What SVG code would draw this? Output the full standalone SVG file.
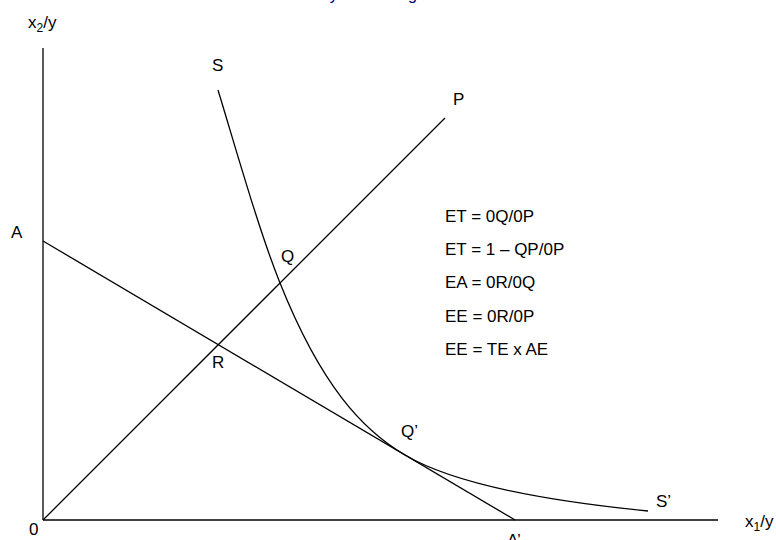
<svg xmlns="http://www.w3.org/2000/svg" width="776" height="540" viewBox="0 0 776 540">
<style>
.ln{fill:none;stroke:#000;stroke-width:1.3}
.lb{font-family:"Liberation Sans",Arial,sans-serif;font-size:17px;fill:#000}
.tt{font-family:"Liberation Sans",Arial,sans-serif;font-size:16px;fill:#000080}
</style>
<rect width="776" height="540" fill="#fff"/>
<text class="tt" x="269.5" y="-0.5">Efficiency measuring</text>
<g id="connectors">
<line id="y-axis" class="ln" x1="43" y1="48" x2="43" y2="520"/>
<line id="x-axis" class="ln" x1="43" y1="520" x2="718" y2="520"/>
<line id="ray-0P" class="ln" x1="43" y1="520" x2="445" y2="118"/>
<line id="isocost-AA" class="ln" x1="43" y1="241" x2="515" y2="520"/>
<path id="isoquant-SS" class="ln" d="M218,90 C238.7,158.2 259.3,231.3 280,283 C321.7,387.2 363.3,430.3 405,455 C448.2,480.6 529.3,499.3 648,511"/>
</g>
<g id="label-x2"><text class="lb" x="28" y="28">x<tspan font-size="12" dy="4">2</tspan><tspan dy="-4">/y</tspan></text></g>
<g id="label-x1"><text class="lb" x="745" y="527">x<tspan font-size="12" dy="4">1</tspan><tspan dy="-4">/y</tspan></text></g>
<g id="label-0"><text class="lb" x="29" y="535">0</text></g>
<g id="label-A"><text class="lb" x="11" y="238">A</text></g>
<g id="label-A2"><text class="lb" x="507" y="546">A’</text></g>
<g id="label-S"><text class="lb" x="212" y="71">S</text></g>
<g id="label-S2"><text class="lb" x="656" y="507">S’</text></g>
<g id="label-P"><text class="lb" x="453" y="105">P</text></g>
<g id="label-Q"><text class="lb" x="281" y="262">Q</text></g>
<g id="label-R"><text class="lb" x="212" y="368">R</text></g>
<g id="label-Q2"><text class="lb" x="401" y="437">Q’</text></g>
<g id="equations">
<text class="lb" x="445" y="222">ET = 0Q/0P</text>
<text class="lb" x="445" y="255">ET = 1 – QP/0P</text>
<text class="lb" x="445" y="288">EA = 0R/0Q</text>
<text class="lb" x="445" y="322">EE = 0R/0P</text>
<text class="lb" x="445" y="355">EE = TE x AE</text>
</g>
</svg>
